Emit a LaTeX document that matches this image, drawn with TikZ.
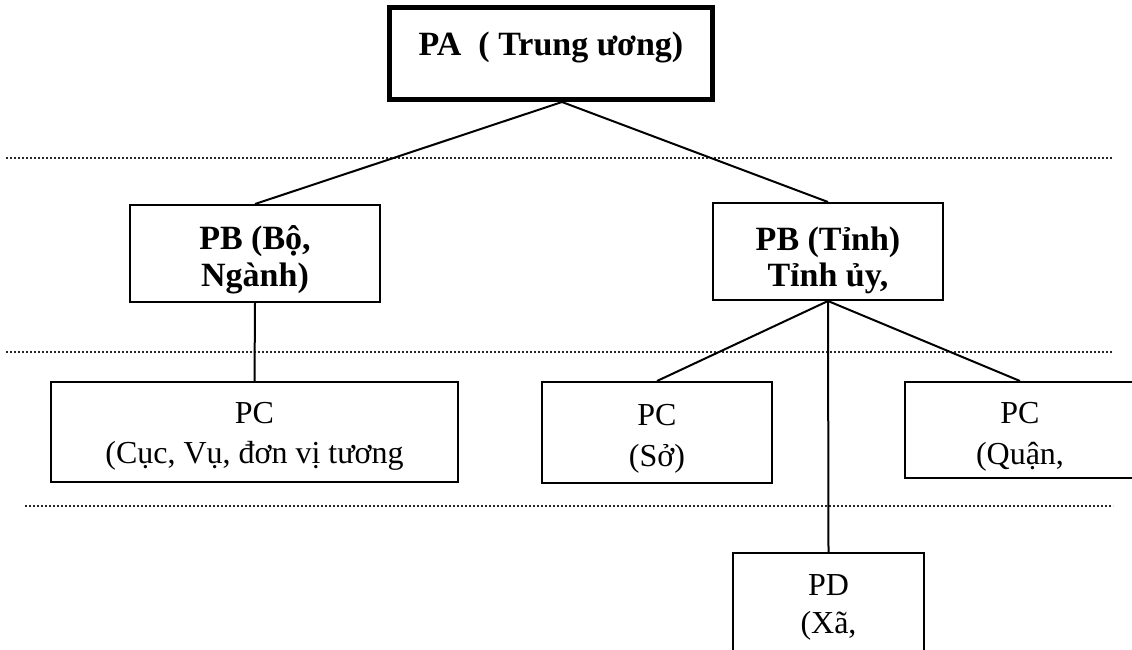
\documentclass[tikz,border=0pt]{standalone}
\usepackage{fontspec}
\setmainfont{Liberation Serif}
\newcommand{\boxtext}[4]{\parbox[t][#2][t]{#1}{\lineskiplimit=-100pt\centering\rule{0pt}{#3}#4}}

\begin{document}
\begin{tikzpicture}[x=1pt, y=-1pt,
		unit/.style={draw, line width=2pt, inner sep=0pt},
		head/.style={font={\fontsize{34}{37}\selectfont\bfseries}},
		body/.style={font={\fontsize{32}{40}\selectfont}},
		link/.style={line width=2pt},
		level/.style={line width=1.6pt, black!85, dash pattern=on 1.8pt off 2.2pt}]
		%\draw[lightgray] (0, 0) grid[step=50] (1132, 649);
		\useasboundingbox (0, 0) rectangle (1132, 649);
		\clip (0, 0) rectangle (1132, 649);
		
		\draw[level] (6, 158) -- (1113, 158);
		\draw[level] (6, 352) -- (1113, 352);
		\draw[level] (25, 506) -- (1113, 506);
		
		\node[unit, head, line width=5pt] (pa) at (551, 53.5) {\boxtext{323pt}{92pt}{47.5pt}{PA~ ( Trung ương)}};
		
		\node[unit, head] (pbl) at (255, 253.5) {\boxtext{250pt}{97pt}{44pt}{PB (Bộ,\\Ngành)}};
		\node[unit, head, font={\fontsize{34}{36}\selectfont\bfseries}] (pbr) at (828, 251.5) {\boxtext{230pt}{97pt}{47pt}{PB (Tỉnh)\\Tỉnh ủy,}};
		
		\node[unit, body] (pcl) at (254.5, 432) {\boxtext{407pt}{100pt}{41pt}{PC\\(Cục, Vụ, đơn vị tương}};
		\node[unit, body, font={\fontsize{32}{41}\selectfont}] (pcs) at (657, 432.5) {\boxtext{230pt}{101pt}{43pt}{PC\\(Sở)}};
		\node[unit, body, font={\fontsize{32}{41}\selectfont}] (pcq) at (1020, 430) {\boxtext{230pt}{96pt}{41pt}{PC\\(Quận,}};
		
		\node[unit, body, font={\fontsize{32}{38}\selectfont}] (pd) at (828.5, 616.5) {\boxtext{191pt}{127pt}{42pt}{PD\\(Xã,}};
		
		\coordinate (pafoot) at ([xshift=11pt]pa.south);
		
		\draw[link] (pafoot) -- (pbl.north);
		\draw[link] (pafoot) -- (pbr.north);
		\draw[link] (pbl.south) -- (pcl.north);
		\draw[link] (pbr.south) -- (pcs.north);
		\draw[link] (pbr.south) -- (pcq.north);
		\draw[link] (pbr.south) -- (pd.north);
	\end{tikzpicture}
\end{document}
